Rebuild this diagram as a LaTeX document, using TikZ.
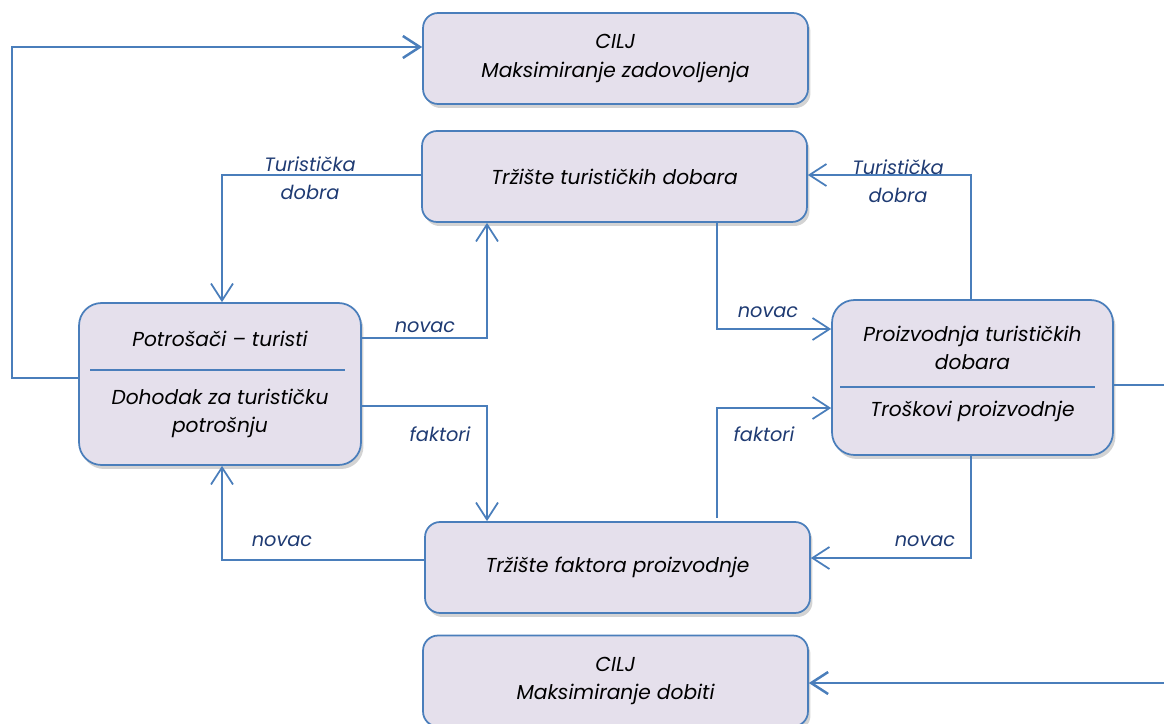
\documentclass[tikz,border=0pt]{standalone}
\usepackage{fontspec}
\setmainfont{Poppins}
\usetikzlibrary{arrows.meta,shadows}

\definecolor{plava}{HTML}{4A7EBB}
\definecolor{lila}{HTML}{E5E0EC}
\definecolor{tamna}{HTML}{1F3B73}

\tikzset{
  kutija/.style={draw=plava, fill=lila, rounded corners=0.3cm, line width=0.035cm,
    minimum width=7.7cm, minimum height=1.82cm,
    drop shadow={opacity=0.35, shadow xshift=0.05cm, shadow yshift=-0.08cm}},
  tekst/.style={align=center, font=\itshape\fontsize{11.5}{16}\selectfont},
  oznaka/.style={align=center, font=\itshape\fontsize{11}{16}\selectfont, text=tamna},
  tok/.style={draw=plava, line width=0.035cm, -{Straight Barb[length=0.34cm,width=0.44cm]}},
  crta/.style={draw=plava, line width=0.03cm},
}

\begin{document}
\begin{tikzpicture}[x=0.02cm, y=-0.02cm]
  \useasboundingbox (0,0) rectangle (1164,724);

  % kutije
  \node[kutija, tekst] (cilj1) at (615.5,58.5) {CILJ\\Maksimiranje zadovoljenja};
  \node[kutija, tekst] (trziste) at (614.5,176.5) {Tržište turističkih dobara};
  \node[kutija, minimum width=5.64cm, minimum height=3.24cm, rounded corners=0.45cm] (potrosaci) at (220,384) {};
  \node[kutija, minimum width=5.62cm, minimum height=3.1cm, rounded corners=0.45cm] (proizvodnja) at (972.5,377.5) {};
  \node[kutija, tekst] (faktori) at (617.5,567.5) {Tržište faktora proizvodnje};
  \node[kutija, tekst] (cilj2) at (615.5,681) {CILJ\\Maksimiranje dobiti};

  % tekst u kutijama
  \node[tekst] (potrosaciA) at (220,339) {Potrošači – turisti};
  \node[tekst] (potrosaciB) at (220,413) {Dohodak za turističku\\potrošnju};
  \draw[crta] (90,370) -- (345,370);
  \node[tekst] (proizvodnjaA) at (972.5,348) {Proizvodnja turističkih\\dobara};
  \node[tekst] (proizvodnjaB) at (972.5,411) {Troškovi proizvodnje};
  \draw[crta] (840,387) -- (1095,387);

  % tokovi
  \draw[tok, line width=0.05cm] (potrosaci.west |- 0,378) -| (12,47) -- (cilj1.west |- 0,47);
  \draw[tok] (trziste.west |- 0,175) -| (potrosaci.north -| 222,0);
  \draw[tok] (potrosaci.east |- 0,338) -| (trziste.south -| 487,0);
  \draw[tok] (potrosaci.east |- 0,406) -| (faktori.north -| 487,0);
  \draw[tok] (faktori.west |- 0,560) -| (potrosaci.south -| 222,0);
  \draw[tok] (trziste.south -| 717,0) |- (proizvodnja.west |- 0,329);
  \draw[tok] (proizvodnja.north -| 971,0) |- (trziste.east |- 0,175);
  \draw[tok] (717,518) |- (proizvodnja.west |- 0,408);
  \draw[tok] (proizvodnja.south -| 971,0) |- (faktori.east |- 0,558);
  \draw[tok, line width=0.05cm] (proizvodnja.east |- 0,385) -| (1190,683) -- (cilj2.east |- 0,683);

  % oznake
  \node[oznaka] (dobra1) at (310,178) {Turistička\\dobra};
  \node[oznaka] (novac1) at (425,327) {novac};
  \node[oznaka] (faktori1) at (440,434) {faktori};
  \node[oznaka] (novac2) at (282,541) {novac};
  \node[oznaka] (novac3) at (768,312) {novac};
  \node[oznaka] (dobra2) at (898,181) {Turistička\\dobra};
  \node[oznaka] (faktori2) at (764,434) {faktori};
  \node[oznaka] (novac4) at (925,541) {novac};
\end{tikzpicture}
\end{document}
